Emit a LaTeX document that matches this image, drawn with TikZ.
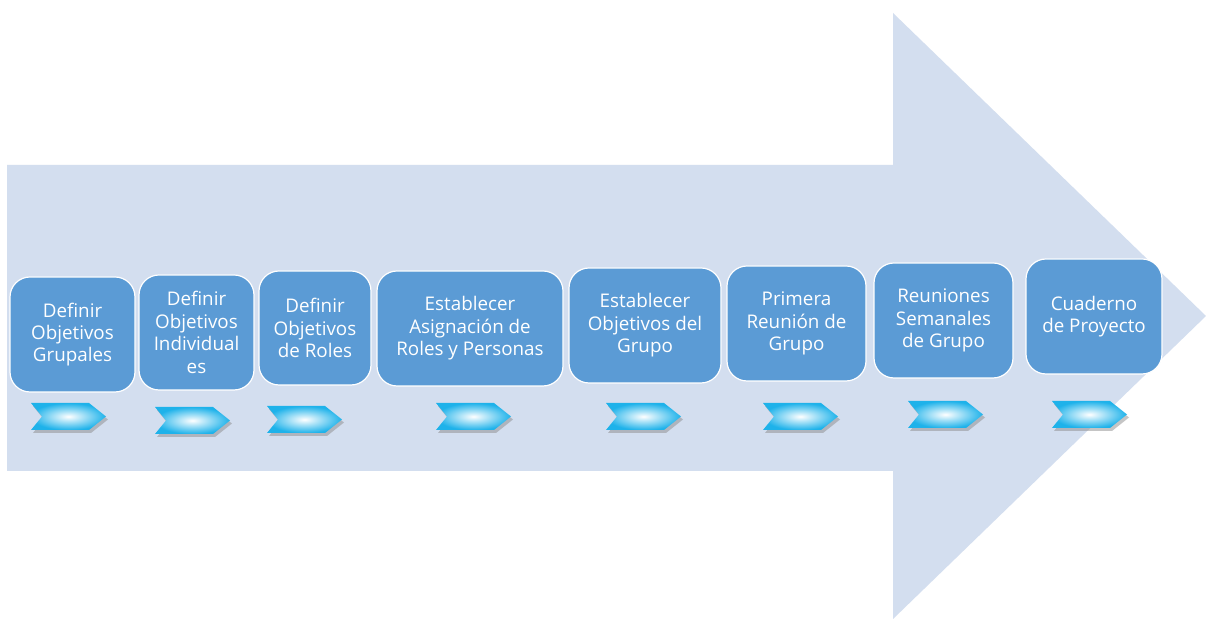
\documentclass[tikz,border=0pt]{standalone}
\usepackage{fontspec}
\setmainfont{Open Sans}
\usetikzlibrary{shadings}
\definecolor{bigarrow}{RGB}{211,222,239}
\definecolor{boxblue}{RGB}{91,155,213}
\definecolor{chevcyan}{RGB}{30,178,234}
\newcommand\mychev[2]{%
  \fill[black!45,opacity=0.5] (#1+2,#2+3) -- (#1+60,#2+3) -- (#1+77,#2+16.5) -- (#1+60,#2+30) -- (#1+2,#2+30) -- (#1+13,#2+16.5) -- cycle;
  \shade[inner color=white,outer color=chevcyan] (#1,#2) -- (#1+58,#2) -- (#1+75,#2+13.5) -- (#1+58,#2+27) -- (#1,#2+27) -- (#1+11,#2+13.5) -- cycle;
}
\begin{document}
\begin{tikzpicture}[x=0.5pt,y=-0.5pt,
  stepbox/.style={draw=white,line width=0.6pt,fill=boxblue,rounded corners=10pt,
    text=white,align=center,inner sep=0pt,font=\fontsize{9.4}{11.2}\selectfont}]
\useasboundingbox (0,0) rectangle (1206,619);
\fill[white] (0,0) rectangle (1206,619);
% big arrow
\fill[bigarrow] (7,165) -- (893,165) -- (893,13) -- (1206,316) -- (893,619) -- (893,471) -- (7,471) -- cycle;
% boxes
\node[stepbox,minimum width=62.5pt,minimum height=57.5pt] (b1) at (72.5,334.5) {Definir\\Objetivos\\Grupales};
\node[stepbox,minimum width=57.5pt,minimum height=57.5pt] (b2) at (196.5,332.5) {Definir\\Objetivos\\Individual\\es};
\node[stepbox,minimum width=56pt,minimum height=57pt] (b3) at (315,328) {Definir\\Objetivos\\de Roles};
\node[stepbox,minimum width=93pt,minimum height=57.5pt] (b4) at (470,328.5) {Establecer\\Asignación de\\Roles y Personas};
\node[stepbox,minimum width=76pt,minimum height=57.5pt] (b5) at (645,325.5) {Establecer\\Objetivos del\\Grupo};
\node[stepbox,minimum width=69.5pt,minimum height=57.5pt] (b6) at (796.5,323.5) {Primera\\Reunión de\\Grupo};
\node[stepbox,minimum width=69.5pt,minimum height=57.5pt] (b7) at (943.5,320.5) {Reuniones\\Semanales\\de Grupo};
\node[stepbox,minimum width=68pt,minimum height=57.5pt] (b8) at (1094,316.5) {Cuaderno\\de Proyecto};
% chevrons
\mychev{31}{403}
\mychev{155}{407}
\mychev{267}{406}
\mychev{436}{403}
\mychev{606}{403}
\mychev{763}{403}
\mychev{908}{401}
\mychev{1052}{401}
\end{tikzpicture}
\end{document}
